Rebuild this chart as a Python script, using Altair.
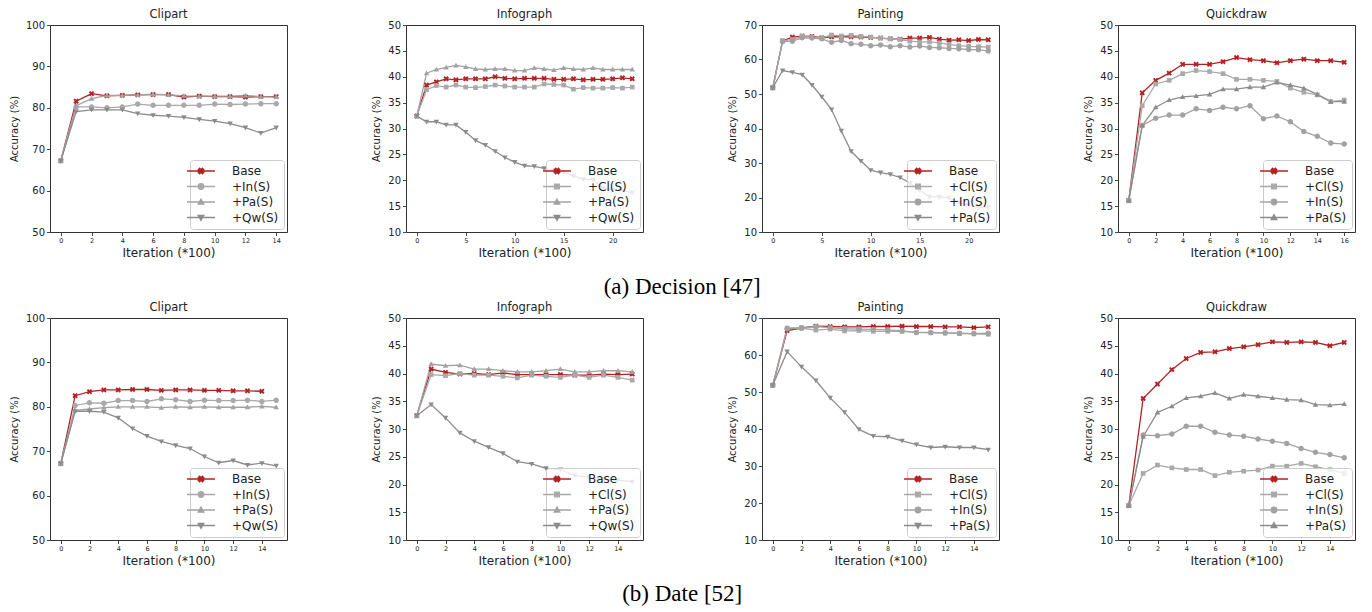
import altair as alt
import pandas as pd

ITER_TITLE = "Iteration (*100)"
ACC_TITLE = "Accuracy (%)"
CAPTIONS = ["(a) Decision [47]", "(b) Date [52]"]

# ---------------- (a) Decision [47] ----------------
dec_clip_series = ["Base", "+In(S)", "+Pa(S)", "+Qw(S)"]
dec_clip_base = [67.2, 81.6, 83.4, 82.9, 83.0, 83.1, 83.2, 83.2, 82.6, 82.8, 82.7, 82.7, 82.6, 82.7, 82.7]
dec_clip_in = [67.2, 80.2, 80.2, 80.0, 80.2, 80.9, 80.6, 80.6, 80.6, 80.6, 80.9, 80.8, 80.9, 81.0, 81.0]
dec_clip_pa = [67.2, 80.5, 82.2, 83.0, 83.0, 83.1, 83.3, 83.1, 82.9, 82.8, 82.8, 82.8, 83.0, 82.7, 82.6]
dec_clip_qw = [67.2, 79.1, 79.5, 79.5, 79.5, 78.6, 78.2, 78.0, 77.7, 77.2, 76.8, 76.2, 75.2, 73.9, 75.2]

dec_info_series = ["Base", "+Cl(S)", "+Pa(S)", "+Qw(S)"]
dec_info_base = [32.4, 38.4, 39.0, 39.6, 39.4, 39.6, 39.6, 39.6, 40.0, 39.7, 39.6, 39.7, 39.7, 39.7, 39.5, 39.5, 39.6, 39.4, 39.5, 39.5, 39.6, 39.8, 39.6]
dec_info_cl = [32.4, 37.5, 38.3, 38.0, 38.4, 38.0, 37.9, 38.1, 38.4, 38.2, 38.0, 38.0, 38.0, 38.6, 38.5, 38.4, 37.6, 37.9, 37.8, 37.8, 37.9, 37.8, 38.0]
dec_info_pa = [32.4, 40.7, 41.4, 41.8, 42.2, 41.9, 41.5, 41.4, 41.5, 41.5, 41.2, 41.2, 41.7, 41.5, 41.3, 41.7, 41.5, 41.4, 41.7, 41.4, 41.4, 41.4, 41.4]
dec_info_qw = [32.4, 31.3, 31.3, 30.7, 30.7, 29.3, 27.7, 26.8, 25.6, 24.4, 23.5, 22.8, 22.7, 22.3, 21.9, 21.6, 20.8, 20.2, 20.1, 18.5, 18.2, 18.0, 17.6]

dec_pain_series = ["Base", "+Cl(S)", "+In(S)", "+Pa(S)"]
dec_pain_base = [51.8, 65.4, 66.5, 66.8, 66.7, 66.3, 66.6, 66.6, 66.6, 66.5, 66.4, 66.2, 66.0, 65.9, 66.2, 66.2, 66.4, 65.9, 65.6, 65.7, 65.5, 65.8, 65.7]
dec_pain_cl = [51.8, 65.4, 65.8, 66.8, 66.5, 66.3, 67.1, 66.8, 67.0, 66.7, 66.5, 66.2, 66.0, 65.8, 65.3, 65.1, 65.1, 64.8, 64.4, 64.0, 63.8, 63.7, 63.6]
dec_pain_in = [51.8, 65.2, 65.3, 66.3, 66.2, 66.0, 65.0, 65.5, 64.6, 64.4, 64.0, 64.2, 63.7, 64.0, 63.6, 63.9, 63.5, 63.4, 63.2, 63.1, 62.9, 62.8, 62.5]
dec_pain_pa = [51.8, 56.8, 56.3, 55.6, 52.6, 49.2, 45.5, 39.3, 33.4, 30.6, 27.9, 27.2, 26.7, 25.8, 24.2, 22.1, 20.2, 20.2, 19.9, 18.6, 17.9, 17.0, 17.3]

dec_quick_series = ["Base", "+Cl(S)", "+In(S)", "+Pa(S)"]
dec_quick_base = [16.1, 36.9, 39.3, 40.7, 42.4, 42.4, 42.4, 42.9, 43.7, 43.3, 43.1, 42.7, 43.1, 43.4, 43.1, 43.1, 42.8]
dec_quick_cl = [16.1, 34.4, 38.6, 39.3, 40.6, 41.2, 41.0, 40.6, 39.5, 39.5, 39.3, 39.1, 37.8, 37.0, 36.5, 35.2, 35.5]
dec_quick_in = [16.1, 30.6, 32.0, 32.6, 32.6, 33.8, 33.5, 34.1, 33.8, 34.4, 31.9, 32.4, 31.3, 29.4, 28.5, 27.2, 27.0]
dec_quick_pa = [16.1, 30.6, 34.1, 35.5, 36.1, 36.3, 36.6, 37.6, 37.6, 38.0, 38.0, 38.9, 38.4, 37.8, 36.6, 35.2, 35.2]

# ---------------- (b) Date [52] ----------------
date_clip_series = ["Base", "+In(S)", "+Pa(S)", "+Qw(S)"]
date_clip_base = [67.2, 82.5, 83.4, 83.8, 83.8, 83.9, 83.9, 83.7, 83.8, 83.8, 83.7, 83.7, 83.6, 83.6, 83.5]
date_clip_in = [67.2, 80.3, 80.9, 80.8, 81.4, 81.4, 81.2, 81.8, 81.6, 81.2, 81.5, 81.4, 81.4, 81.5, 81.2, 81.5]
date_clip_pa = [67.2, 79.2, 79.5, 79.8, 80.0, 80.0, 80.0, 79.8, 80.0, 79.9, 80.0, 79.9, 79.9, 79.9, 80.1, 79.9]
date_clip_qw = [67.2, 79.0, 79.0, 78.8, 77.5, 75.1, 73.4, 72.2, 71.3, 70.6, 68.8, 67.4, 67.9, 66.9, 67.3, 66.7]

date_info_series = ["Base", "+Cl(S)", "+Pa(S)", "+Qw(S)"]
date_info_base = [32.4, 40.8, 40.2, 39.9, 40.0, 39.8, 40.1, 39.8, 39.8, 39.8, 39.8, 39.7, 39.7, 39.9, 39.8, 39.9]
date_info_cl = [32.4, 39.8, 39.6, 40.0, 39.7, 39.7, 39.5, 39.2, 39.7, 39.5, 39.3, 39.7, 39.3, 39.7, 39.3, 38.8]
date_info_pa = [32.4, 41.7, 41.4, 41.5, 40.8, 40.8, 40.5, 40.3, 40.3, 40.5, 40.8, 40.3, 40.3, 40.5, 40.5, 40.3]
date_info_qw = [32.4, 34.4, 32.0, 29.3, 27.8, 26.7, 25.6, 24.1, 23.7, 22.9, 22.7, 21.6, 21.3, 21.0, 20.8, 20.5]

date_pain_series = ["Base", "+Cl(S)", "+In(S)", "+Pa(S)"]
date_pain_base = [51.8, 66.6, 67.3, 67.8, 67.7, 67.6, 67.6, 67.7, 67.7, 67.8, 67.7, 67.7, 67.6, 67.6, 67.4, 67.6]
date_pain_cl = [51.8, 67.3, 67.3, 66.7, 67.0, 66.5, 66.6, 66.4, 66.4, 66.4, 66.1, 66.0, 65.9, 65.8, 65.7, 65.6]
date_pain_in = [51.8, 67.1, 67.3, 67.7, 67.4, 67.1, 67.0, 66.9, 66.8, 66.5, 66.1, 66.1, 66.0, 65.9, 65.8, 65.9]
date_pain_pa = [51.8, 60.9, 56.8, 53.1, 48.4, 44.5, 39.9, 38.1, 37.9, 36.8, 35.8, 35.0, 35.2, 35.0, 35.0, 34.4]

date_quick_series = ["Base", "+Cl(S)", "+In(S)", "+Pa(S)"]
date_quick_base = [16.2, 35.5, 38.1, 40.7, 42.7, 43.8, 43.9, 44.5, 44.8, 45.2, 45.7, 45.6, 45.7, 45.6, 45.0, 45.6]
date_quick_cl = [16.2, 22.0, 23.5, 23.0, 22.7, 22.7, 21.6, 22.2, 22.4, 22.6, 23.3, 23.3, 23.8, 23.2, 22.7, 22.0]
date_quick_in = [16.2, 28.9, 28.8, 29.1, 30.5, 30.5, 29.4, 28.9, 28.7, 28.2, 27.8, 27.4, 26.5, 25.8, 25.4, 24.8]
date_quick_pa = [16.2, 28.6, 33.0, 34.1, 35.6, 35.9, 36.5, 35.5, 36.2, 35.9, 35.6, 35.3, 35.2, 34.4, 34.3, 34.5]

# ---------------- styling ----------------
COLORS = ["#b22222", "#a9a9a9", "#a2a2a2", "#8c8c8c"]

# unit-box marker paths
M_X = "M-1,-0.5L-0.5,-1L0,-0.5L0.5,-1L1,-0.5L0.5,0L1,0.5L0.5,1L0,0.5L-0.5,1L-1,0.5L-0.5,0Z"
M_O = "M-1,0A1,1 0 1,0 1,0A1,1 0 1,0 -1,0Z"
M_S = "M-0.85,-0.85L0.85,-0.85L0.85,0.85L-0.85,0.85Z"
M_UP = "M0,-1L1,0.75L-1,0.75Z"
M_DN = "M0,1L1,-0.75L-1,-0.75Z"
LEG_LINE = "M-5.1,0L5.1,0"

FONT = "DejaVu Sans"
TXT = "#222222"
IND = dict(color="independent", shape="independent", fill="independent", stroke="independent")


def panel(title, names, series, markers, ydom, ystep, xstep, height, xtop=None):
    rows = []
    for k, (nm, vals) in enumerate(zip(names, series)):
        for i, v in enumerate(vals):
            rows.append({"it": i, "acc": v, "series": nm, "k": k})
    df = pd.DataFrame(rows)
    xmax = max(len(s) for s in series) - 1
    xpad = 0.05 * xmax
    xticks = list(range(0, (xtop if xtop is not None else xmax) + 1, xstep))
    yticks = list(range(ydom[0], ydom[1] + 1, ystep))

    x = alt.X("it:Q", scale=alt.Scale(domain=[-xpad, xmax + xpad], nice=False, zero=False),
              axis=alt.Axis(values=xticks, format="d", title=ITER_TITLE, labelFontSize=6.5,
                            titleFontSize=12, titlePadding=3, labelPadding=2))
    y = alt.Y("acc:Q", scale=alt.Scale(domain=ydom, nice=False, zero=False),
              axis=alt.Axis(values=yticks, format="d", title=ACC_TITLE, labelFontSize=10,
                            titleFontSize=10, titlePadding=6, labelPadding=2))
    cscale = alt.Scale(domain=names, range=COLORS)
    leg = alt.Legend(title=None, orient="bottom-right", offset=3, padding=5, rowPadding=3.5,
                     symbolSize=30, symbolStrokeWidth=1.4, labelFontSize=12, labelFont=FONT,
                     labelColor=TXT, labelOffset=25, strokeColor="#cccccc",
                     fillColor="rgba(255,255,255,0.8)", cornerRadius=3, labelLimit=0)

    base = alt.Chart(df)
    lines = base.mark_line(strokeWidth=1.3).encode(
        x=x, y=y, color=alt.Color("series:N", scale=cscale, legend=None),
        order=alt.Order("it:Q"))
    pts = base.mark_point(filled=True, size=30, opacity=1).encode(
        x=x, y=y, color=alt.Color("series:N", scale=cscale, legend=None),
        shape=alt.Shape("series:N", scale=alt.Scale(domain=names, range=markers), legend=None))
    legpaths = [LEG_LINE + m for m in markers]
    legend_layer = base.transform_filter("false").mark_point(
        filled=True, opacity=1, strokeWidth=1.4).encode(
        x=x, y=y,
        fill=alt.Fill("series:N", scale=alt.Scale(domain=names, range=COLORS), legend=leg),
        stroke=alt.Stroke("series:N", scale=alt.Scale(domain=names, range=COLORS), legend=leg),
        shape=alt.Shape("series:N", scale=alt.Scale(domain=names, range=legpaths), legend=leg))
    return alt.layer(lines, pts, legend_layer).resolve_scale(
        shape="independent", fill="independent", stroke="independent").properties(
        width=237, height=height,
        title=alt.TitleParams(title, fontSize=11.5, fontWeight="normal", font=FONT,
                              color=TXT, offset=0))


H1, H2 = 207, 222
row1 = [
    panel("Clipart", dec_clip_series, [dec_clip_base, dec_clip_in, dec_clip_pa, dec_clip_qw],
          [M_X, M_O, M_UP, M_DN], [50, 100], 10, 2, H1),
    panel("Infograph", dec_info_series, [dec_info_base, dec_info_cl, dec_info_pa, dec_info_qw],
          [M_X, M_S, M_UP, M_DN], [10, 50], 5, 5, H1),
    panel("Painting", dec_pain_series, [dec_pain_base, dec_pain_cl, dec_pain_in, dec_pain_pa],
          [M_X, M_S, M_O, M_DN], [10, 70], 10, 5, H1),
    panel("Quickdraw", dec_quick_series, [dec_quick_base, dec_quick_cl, dec_quick_in, dec_quick_pa],
          [M_X, M_S, M_O, M_UP], [10, 50], 5, 2, H1),
]
row2 = [
    panel("Clipart", date_clip_series, [date_clip_base, date_clip_in, date_clip_pa, date_clip_qw],
          [M_X, M_O, M_UP, M_DN], [50, 100], 10, 2, H2, xtop=14),
    panel("Infograph", date_info_series, [date_info_base, date_info_cl, date_info_pa, date_info_qw],
          [M_X, M_S, M_UP, M_DN], [10, 50], 5, 2, H2, xtop=14),
    panel("Painting", date_pain_series, [date_pain_base, date_pain_cl, date_pain_in, date_pain_pa],
          [M_X, M_S, M_O, M_DN], [10, 70], 10, 2, H2, xtop=14),
    panel("Quickdraw", date_quick_series, [date_quick_base, date_quick_cl, date_quick_in, date_quick_pa],
          [M_X, M_S, M_O, M_UP], [10, 50], 5, 2, H2, xtop=14),
]


def cap(text, off):
    return alt.TitleParams(text, orient="bottom", anchor="middle", font="Liberation Serif",
                           fontSize=23, fontWeight="normal", color="#000000", offset=off)


r1 = alt.hconcat(*row1, spacing=119, bounds="flush").resolve_scale(**IND).properties(
    title=cap(CAPTIONS[0], 17))
r2 = alt.hconcat(*row2, spacing=119, bounds="flush").resolve_scale(**IND).properties(
    title=cap(CAPTIONS[1], 16))

chart = alt.vconcat(r1, r2, spacing=2).resolve_scale(**IND).properties(
    padding={"left": 0, "top": 0, "right": 4, "bottom": 0}
).configure_view(stroke="#333333", strokeWidth=1).configure_axis(
    domain=False, grid=False, tickColor="#333333", tickSize=3.5, tickWidth=0.9,
    labelColor=TXT, titleColor=TXT, labelFont=FONT, titleFont=FONT,
    titleFontWeight="normal"
)

chart.save("out.html", embed_options={"renderer": "svg", "actions": False})
